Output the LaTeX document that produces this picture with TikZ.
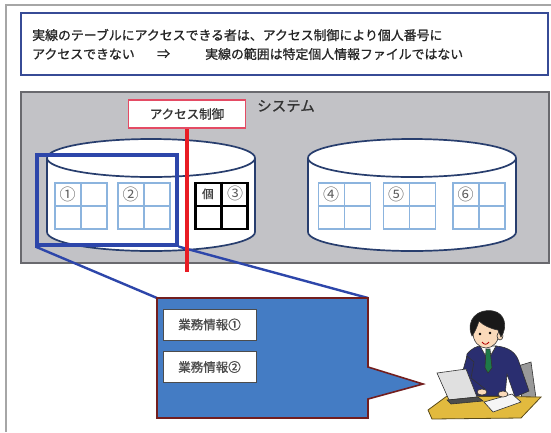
\documentclass[tikz,border=0pt]{standalone}
\usepackage{fontspec}
\setmainfont{Noto Sans CJK JP}
\newfontfamily\jpbold{Noto Sans CJK JP}[FakeBold=1]
\usetikzlibrary{calc}

\definecolor{hdrblue}{RGB}{55,75,150}
\definecolor{panelgrey}{RGB}{194,194,198}
\definecolor{panelline}{RGB}{105,105,110}
\definecolor{cylline}{RGB}{40,62,110}
\definecolor{tblblue}{RGB}{140,180,222}
\definecolor{numgrey}{RGB}{95,95,95}
\definecolor{selblue}{RGB}{45,70,170}
\definecolor{aclred}{RGB}{232,28,36}
\definecolor{aclpink}{RGB}{228,75,100}
\definecolor{infoblue}{RGB}{68,124,196}
\definecolor{infored}{RGB}{115,30,30}
\definecolor{suit}{RGB}{42,46,112}
\definecolor{skin}{RGB}{250,218,186}
\definecolor{tiegreen}{RGB}{30,122,72}
\definecolor{deskyellow}{RGB}{226,186,62}

\tikzset{
	hdr/.style={anchor=west,inner sep=0pt,text=black!85,font=\jpbold\fontsize{12.9}{13}\selectfont},
	cyl/.style={draw=cylline,line width=1.7pt,fill=white},
	tbl/.style={draw=tblblue,line width=1.2pt,minimum width=52pt,minimum height=46pt,inner sep=0pt},
	num/.style={inner sep=0pt,text=numgrey,font=\fontsize{16}{16}\selectfont},
	jobbox/.style={draw=black!70,line width=0.6pt,fill=white,minimum width=93pt,minimum height=31pt,inner sep=0pt,text=black!70,font=\jpbold\fontsize{12.5}{13}\selectfont},
	outl/.style={draw=black!80,line width=0.6pt}
}

\begin{document}
\begin{tikzpicture}[x=1pt,y=1pt,yscale=-1]
	\path[use as bounding box,fill=white] (0,0) rectangle (551,432);
	%Frame lines
	\draw[black!35,line width=1.2pt] (6,432) -- (6,5) -- (551,5);
	
	%Shape: Rectangle (heading)
	\draw[hdrblue,line width=2.4pt,fill=white] (21,13) rectangle (548,75);
	% Text Node
	\draw (32,35) node (line1) [hdr] {実線のテーブルにアクセスできる者は、アクセス制御により個人番号に};
	\draw (32,54) node (line2) [hdr] {アクセスできない};
	\draw (157,54) node (imply) [hdr] {⇒};
	\draw (205,54) node (line3) [hdr] {実線の範囲は特定個人情報ファイルではない};
	
	%Shape: Rectangle (system)
	\draw[panelline,line width=1.4pt,fill=panelgrey] (21,92) rectangle (549,263);
	% Text Node
	\draw (257,106) node (sys) [anchor=west,inner sep=0pt,text=black!80,font=\jpbold\fontsize{14.5}{15}\selectfont] {システム};
	
	%Shape: Can (left and right)
	\foreach \cx in {151,412} {
		\fill[white] (\cx-104,158) -- (\cx-104,232) arc[start angle=180,end angle=0,x radius=104,y radius=19] -- (\cx+104,158) -- cycle;
		\draw[cyl] (\cx-104,158) -- (\cx-104,232) arc[start angle=180,end angle=0,x radius=104,y radius=19] -- (\cx+104,158);
		\draw[cyl] (\cx,158) ellipse[x radius=104,y radius=19];
	}
	
	%Tables
	\foreach \n/\cx/\lab in {t1/81/①,t2/144/②,t4/344.5/④,t5/409.5/⑤,t6/479/⑥} {
		\node[tbl] (\n) at (\cx,206) {};
		\draw[tblblue,line width=1.2pt] (\n.north) -- (\n.south) (\n.west) -- (\n.east);
		\node[num] at ($(\n.north west)!0.5!(\n.center)$) {\lab};
	}
	\node[tbl,draw=black,line width=2.6pt] (t3) at (221.5,206) {};
	\draw[black,line width=2.6pt] (t3.north) -- (t3.south) (t3.west) -- (t3.east);
	\node[num,text=black!75,font=\jpbold\fontsize{11.5}{12}\selectfont] at ($(t3.north west)!0.5!(t3.center)$) {個};
	\node[num] at ($(t3.north east)!0.5!(t3.center)$) {③};
	
	%Shape: Rectangle (selected range)
	\node[draw=selblue,line width=3.2pt,minimum width=140pt,minimum height=90pt,inner sep=0pt] (sel) at (107,200) {};
	
	%Shape: Callout
	\coordinate (infonw) at (157,298);
	\coordinate (infone) at (368,298);
	\draw[selblue,line width=2.4pt] (sel.south west) -- (infonw) (sel.south east) -- (infone);
	\draw[infored,line width=1.6pt,fill=infoblue,line join=miter] (infonw) -- (infone) -- (368,367) -- (423,384) -- (368,399) -- (368,418) -- (157,418) -- cycle;
	% Text Node
	\draw (209.5,324.5) node (job1) [jobbox] {業務情報①};
	\draw (209.5,367) node (job2) [jobbox] {業務情報②};
	
	%Straight Lines (access control)
	\coordinate (cut) at (187,272);
	\draw (187,114) node (acl) [draw=aclpink,line width=1.5pt,fill=white,minimum width=117pt,minimum height=28pt,inner sep=0pt,text=black!80,font=\jpbold\fontsize{12.5}{13}\selectfont] {アクセス制御};
	\draw[aclred,line width=4pt] (acl.south) -- (acl.south |- cut);
	
	%Person at desk
	\draw[outl,fill=black!40] (518,366) -- (531,362) -- (536,398) -- (522,400) -- cycle;
	\draw[outl,fill=suit] (467,354) .. controls (472,348) and (477,346) .. (481,346) -- (488,360) -- (496,346) .. controls (508,347) and (516,352) .. (519,362) -- (529,391) -- (515,397) -- (507,374) -- (505,396) -- (472,396) -- (465,373) -- cycle;
	\draw[outl,fill=suit] (467,356) -- (460,381) -- (478,395) -- (485,389) -- (471,378) -- (474,362) -- cycle;
	\draw[outl,fill=white] (480,346) -- (496,346) -- (488,360) -- cycle;
	\draw[outl,fill=tiegreen] (486,349) -- (490,349) -- (492,368) -- (488,373) -- (485,368) -- cycle;
	\draw[outl,fill=skin] (486,333) ellipse[x radius=13,y radius=15];
	\draw[outl,fill=skin] (500,336) ellipse[x radius=3,y radius=4];
	\draw[outl,fill=black!90] (472,336) .. controls (465,320) and (478,308) .. (493,311) .. controls (505,313) and (508,327) .. (501,337) -- (498,330) .. controls (491,329) and (483,325) .. (479,321) .. controls (477,327) and (475,332) .. (472,336) -- cycle;
	\fill[black] (480,334) circle[radius=1.3] (490,333) circle[radius=1.3];
	\draw[red!70!black,line width=0.8pt] (482,342) .. controls (484,345) and (487,345) .. (489,342);
	\draw[draw=black!60!deskyellow,line width=0.8pt,fill=deskyellow] (428,410) -- (447,396) -- (541,397) -- (521,418) -- (432,419) -- cycle;
	\draw[outl,fill=black!12] (437,373) -- (466,369) -- (477,397) -- (449,400) -- cycle;
	\draw[outl,fill=black!70] (447,400) -- (478,397) -- (483,401) -- (451,404) -- cycle;
	\draw[outl,fill=black!4] (484,402) -- (512,394) -- (521,402) -- (493,412) -- cycle;
	\draw[outl,fill=skin] (482,392) ellipse[x radius=5,y radius=3];
	\draw[outl,fill=skin] (503,394) ellipse[x radius=5,y radius=3];
\end{tikzpicture}
\end{document}
